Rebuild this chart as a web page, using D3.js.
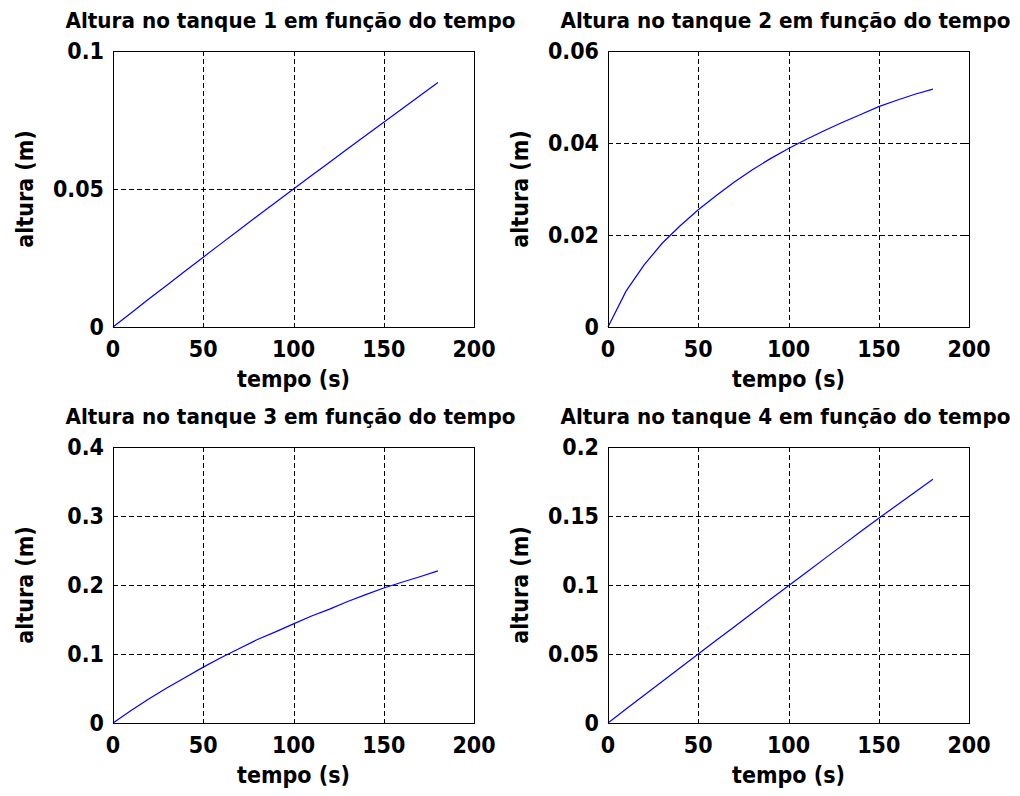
<!DOCTYPE html>
<html>
<head>
<meta charset="utf-8">
<script src="https://cdn.jsdelivr.net/npm/d3@7"></script>
<style>
  body { margin: 0; background: #fff; }
  text { font-family: "DejaVu Sans Condensed", "DejaVu Sans", sans-serif; font-stretch: condensed; font-weight: bold; fill: #000; }
</style>
</head>
<body>
<div id="chart"></div>
<script>
//Data (time in s, height in m)
var tempo = [0, 10, 20, 30, 40, 50, 60, 70, 80, 90, 100, 110, 120, 130, 140, 150, 160, 170, 180];

var alturaTanque1 = [0, 0.0051, 0.0102, 0.0152, 0.0203, 0.0253, 0.0303, 0.0352, 0.0402, 0.0451, 0.0500,
                     0.0549, 0.0597, 0.0646, 0.0694, 0.0742, 0.0790, 0.0838, 0.0886];
var alturaTanque2 = [0, 0.0078, 0.0135, 0.0182, 0.0220, 0.0255, 0.0286, 0.0315, 0.0342, 0.0366, 0.0388,
                     0.0408, 0.0427, 0.0445, 0.0462, 0.0479, 0.0493, 0.0506, 0.0517];
var alturaTanque3 = [0, 0.018, 0.035, 0.051, 0.066, 0.081, 0.095, 0.108, 0.121, 0.132, 0.1436,
                     0.155, 0.165, 0.176, 0.186, 0.1956, 0.204, 0.212, 0.2204];
var alturaTanque4 = [0, 0.0101, 0.0201, 0.0301, 0.0401, 0.0500, 0.0599, 0.0698, 0.0797, 0.0896, 0.0995,
                     0.1093, 0.1191, 0.1289, 0.1387, 0.1484, 0.1578, 0.1672, 0.1766];

var titulos = ["Altura no tanque 1 em função do tempo", "Altura no tanque 2 em função do tempo",
               "Altura no tanque 3 em função do tempo", "Altura no tanque 4 em função do tempo"];

var xTicks = [0, 50, 100, 150, 200];
var yMax = [0.1, 0.06, 0.4, 0.2];
var yTicks = [[0, 0.05, 0.1], [0, 0.02, 0.04, 0.06], [0, 0.1, 0.2, 0.3, 0.4], [0, 0.05, 0.1, 0.15, 0.2]];

var series = [alturaTanque1, alturaTanque2, alturaTanque3, alturaTanque4];

//Page layout: each subplot box in pixels
var colLeft = [113, 608];
var boxWidth = 361;
var rowTop = [51, 447];
var boxHeight = 276;

var svg = d3.select("#chart").append("svg").attr("width", 1020).attr("height", 796);

//Snap to pixel centres so 1px lines stay black
var px = function(v) { return Math.round(v) + 0.5; }

var drawPanel = function(i)
{
    let left = colLeft[i % 2];
    let top = rowTop[Math.floor(i / 2)];

    let x = d3.scaleLinear().domain([0, 200]).range([0, boxWidth]);
    let y = d3.scaleLinear().domain([0, yMax[i]]).range([boxHeight, 0]);

    let g = svg.append("g").attr("transform", "translate(" + left + "," + top + ")");

    //Dashed grid
    g.append("g").selectAll("line").data(xTicks).join("line")
        .attr("x1", d => px(x(d))).attr("x2", d => px(x(d))).attr("y1", 0).attr("y2", boxHeight)
        .attr("stroke", "#000").attr("stroke-width", 1).attr("stroke-dasharray", "5,3")
        .attr("shape-rendering", "crispEdges");
    g.append("g").selectAll("line").data(yTicks[i]).join("line")
        .attr("x1", 0).attr("x2", boxWidth).attr("y1", d => px(y(d))).attr("y2", d => px(y(d)))
        .attr("stroke", "#000").attr("stroke-width", 1).attr("stroke-dasharray", "5,3")
        .attr("shape-rendering", "crispEdges");

    //Small inward ticks on all four sides
    let tk = g.append("g").attr("stroke", "#000").attr("stroke-width", 1).attr("shape-rendering", "crispEdges");
    xTicks.forEach(function(d) {
        tk.append("line").attr("x1", px(x(d))).attr("x2", px(x(d))).attr("y1", boxHeight).attr("y2", boxHeight - 4);
        tk.append("line").attr("x1", px(x(d))).attr("x2", px(x(d))).attr("y1", 0).attr("y2", 4);
    });
    yTicks[i].forEach(function(d) {
        tk.append("line").attr("x1", 0).attr("x2", 4).attr("y1", px(y(d))).attr("y2", px(y(d)));
        tk.append("line").attr("x1", boxWidth).attr("x2", boxWidth - 4).attr("y1", px(y(d))).attr("y2", px(y(d)));
    });

    //The curve
    let line = d3.line().x((d, k) => x(tempo[k])).y(d => y(d));
    g.append("path").datum(series[i]).attr("d", line)
        .attr("fill", "none").attr("stroke", "#0000ff").attr("stroke-width", 1.2);

    //Axes box
    g.append("rect").attr("x", 0.5).attr("y", 0.5).attr("width", boxWidth).attr("height", boxHeight)
        .attr("fill", "none").attr("stroke", "#000").attr("stroke-width", 1.5)
        .attr("shape-rendering", "crispEdges");

    //Tick labels
    g.append("g").selectAll("text").data(xTicks).join("text")
        .attr("x", d => x(d)).attr("y", boxHeight + 30)
        .attr("text-anchor", "middle").style("font-size", "23px").text(d => d);
    g.append("g").selectAll("text").data(yTicks[i]).join("text")
        .attr("x", -9).attr("y", d => y(d)).attr("dy", "0.36em")
        .attr("text-anchor", "end").style("font-size", "23px").text(d => String(d));

    //Title and axis labels
    g.append("text").attr("x", boxWidth / 2 - 3).attr("y", -23)
        .attr("text-anchor", "middle").style("font-size", "22px")
        .attr("textLength", 450).attr("lengthAdjust", "spacingAndGlyphs")
        .text(titulos[i]);
    g.append("text").attr("x", boxWidth / 2).attr("y", boxHeight + 60)
        .attr("text-anchor", "middle").style("font-size", "23px").text("tempo (s)");
    g.append("text").attr("transform", "translate(-80," + (boxHeight / 2) + ") rotate(-90)")
        .attr("text-anchor", "middle").style("font-size", "23px").text("altura (m)");
}

for (let i = 0; i < 4; i++)
{
    drawPanel(i);
}
</script>
</body>
</html>
